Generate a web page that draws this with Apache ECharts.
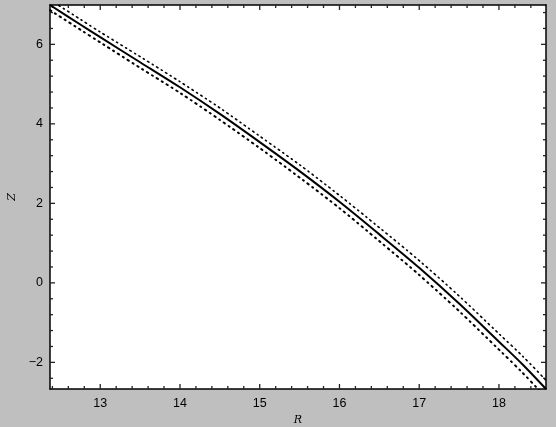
<!DOCTYPE html>
<html>
<head>
<meta charset="utf-8">
<title>Z vs R</title>
<script src="https://cdn.jsdelivr.net/npm/echarts@6/dist/echarts.min.js"></script>
<style>
    html, body { margin: 0; padding: 0; background: #bfbfbf; }
    #chart { width: 556px; height: 427px; }
</style>
</head>
<body>
<div id="chart"></div>
<script>
'use strict';

// values
const rValues = [12.37, 12.75, 13.0, 13.5, 14.0, 14.5, 15.0, 15.5, 16.0, 16.5, 17.0, 17.5, 18.0, 18.3, 18.59];
const zMain   = [6.99, 6.50, 6.18, 5.55, 4.92, 4.25, 3.54, 2.81, 2.04, 1.22, 0.38, -0.52, -1.48, -2.06, -2.67];
const zUpper  = [7.12, 6.63, 6.31, 5.69, 5.06, 4.40, 3.69, 2.97, 2.20, 1.39, 0.56, -0.33, -1.28, -1.85, -2.45];
const zLower  = [6.86, 6.37, 6.05, 5.41, 4.78, 4.10, 3.39, 2.65, 1.88, 1.05, 0.20, -0.71, -1.68, -2.27, -2.89];

const xRange = [12.37, 18.59];
const yRange = [-2.67, 6.99];
const xMajor = [13, 14, 15, 16, 17, 18];
const xMinor = [12.4, 12.6, 12.8, 13.2, 13.4, 13.6, 13.8, 14.2, 14.4, 14.6, 14.8, 15.2, 15.4, 15.6, 15.8,
                16.2, 16.4, 16.6, 16.8, 17.2, 17.4, 17.6, 17.8, 18.2, 18.4];
const yMajor = [-2, 0, 2, 4, 6];
const yMinor = [-2.4, -1.6, -1.2, -0.8, -0.4, 0.4, 0.8, 1.2, 1.6, 2.4, 2.8, 3.2, 3.6,
                4.4, 4.8, 5.2, 5.6, 6.4, 6.8];

const TICK = '#222';
const LABEL_FONT = 'Liberation Sans';
const NAME_FONT = 'DejaVu Serif';

function pairs(xs, ys) {
    return xs.map(function(x, i) { return [x, ys[i]]; });
}

// tick rows for the custom series: [value, isY, length]
function tickRows() {
    const rows = [];
    xMajor.forEach(function(v) { rows.push([v, 0, 5]); });
    xMinor.forEach(function(v) { rows.push([v, 0, 3]); });
    yMajor.forEach(function(v) { rows.push([v, 1, 5]); });
    yMinor.forEach(function(v) { rows.push([v, 1, 3]); });
    return rows;
}

// inward ticks on all four sides, mirrored like the original frame
function renderTick(params, api) {
    const v = api.value(0);
    const isY = api.value(1) === 1;
    const len = api.value(2);
    const style = { stroke: TICK, lineWidth: 1.3 };
    let a, b;
    if (isY) {
        a = api.coord([xRange[0], v]);
        b = api.coord([xRange[1], v]);
        return { type: 'group', children: [
            { type: 'line', shape: { x1: a[0], y1: a[1], x2: a[0] + len, y2: a[1] }, style: style },
            { type: 'line', shape: { x1: b[0], y1: b[1], x2: b[0] - len, y2: b[1] }, style: style }
        ] };
    }
    a = api.coord([v, yRange[0]]);
    b = api.coord([v, yRange[1]]);
    return { type: 'group', children: [
        { type: 'line', shape: { x1: a[0], y1: a[1], x2: a[0], y2: a[1] - len }, style: style },
        { type: 'line', shape: { x1: b[0], y1: b[1], x2: b[0], y2: b[1] + len }, style: style }
    ] };
}

function makeAxis(range, pos, labels, name) {
    const isX = pos === 'bottom' || pos === 'top';
    const axis = {
        type: 'value',
        position: pos,
        min: range[0],
        max: range[1],
        axisLine: { show: true, onZero: false, lineStyle: { color: '#000', width: 1.5 } },
        splitLine: { show: false },
        axisTick: { show: false },
        axisLabel: { show: false }
    };
    if (labels) {
        axis.axisLabel = {
            show: true, customValues: labels, color: '#000',
            fontFamily: LABEL_FONT, fontSize: 12.5, margin: isX ? 8 : 7,
            formatter: function(v) { return String(v).replace('-', '\u2212'); }
        };
    }
    if (name) {
        axis.name = name;
        axis.nameLocation = 'middle';
        axis.nameGap = isX ? 19 : 21;
        axis.nameTextStyle = { fontFamily: NAME_FONT, fontStyle: 'italic', fontSize: 11, color: '#000' };
    }
    return axis;
}

function lineSeries(ys, style) {
    return {
        type: 'line',
        data: pairs(rValues, ys),
        showSymbol: false,
        smooth: 0.3,
        clip: true,
        silent: true,
        lineStyle: style
    };
}

const chart = echarts.init(document.getElementById('chart'));
chart.setOption({
    backgroundColor: '#bfbfbf',
    animation: false,
    grid: {
        left: 50, right: 10, top: 5, bottom: 38,
        outerBoundsMode: 'none',
        containLabel: false,
        show: true, backgroundColor: '#fff', borderWidth: 0
    },
    xAxis: [
        makeAxis(xRange, 'bottom', xMajor, 'R'),
        makeAxis(xRange, 'top')
    ],
    yAxis: [
        makeAxis(yRange, 'left', yMajor, 'Z'),
        makeAxis(yRange, 'right')
    ],
    series: [
        {
            type: 'custom',
            data: tickRows(),
            encode: { x: 0 },
            renderItem: renderTick,
            silent: true,
            clip: false,
            z: 3
        },
        lineSeries(zUpper, { color: '#000', width: 1.6, type: [1.5, 4, 1, 4], cap: 'round' }),
        lineSeries(zLower, { color: '#000', width: 2, type: [1.5, 4.5, 1, 4.5], cap: 'round' }),
        lineSeries(zMain, { color: '#000', width: 2 })
    ]
});
</script>
</body>
</html>
